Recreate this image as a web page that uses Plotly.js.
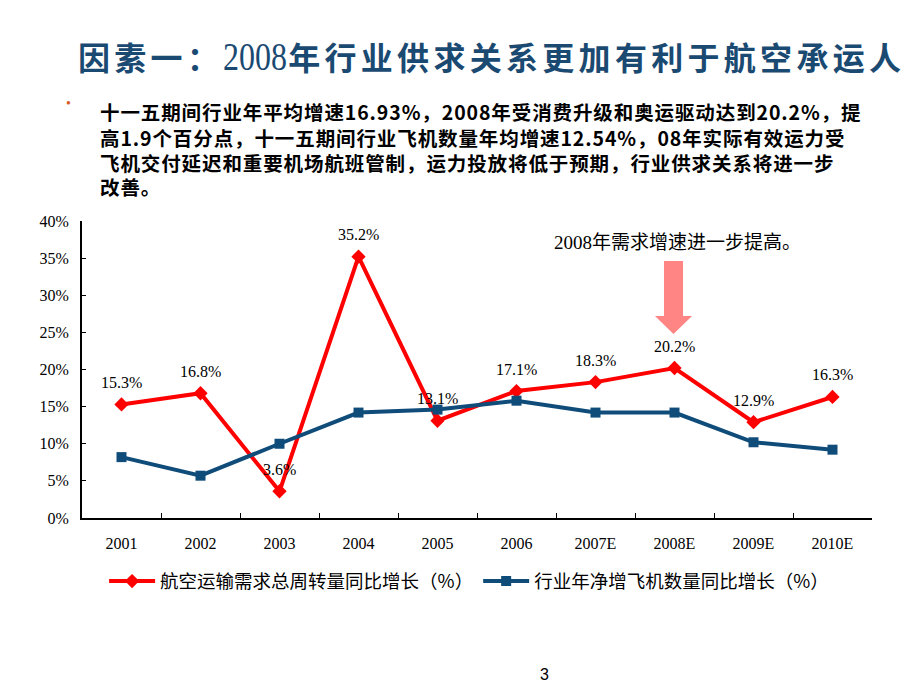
<!DOCTYPE html>
<html>
<head>
<meta charset="utf-8">
<script src="https://cdn.plot.ly/plotly-3.0.1.min.js"></script>
<style>
  body { margin: 0; background: #fff; }
  #page { position: relative; width: 920px; height: 690px; overflow: hidden; }
  #title { position: absolute; left: 78px; top: 34px; font-family: "Noto Sans CJK SC", sans-serif; font-weight: bold; font-size: 32px; line-height: 44px; color: #1a4a72; white-space: nowrap; letter-spacing: 4.3px; }
  #title .num { display: inline-block; font-family: "Liberation Serif", serif; font-weight: normal; font-size: 40px; transform: scaleX(0.8); transform-origin: left center; margin-right: -15px; letter-spacing: 0; }
  #bullet { position: absolute; left: 66px; top: 96px; color: #d85a20; font-size: 14px; }
  .ln { position: absolute; left: 100px; font-family: "Noto Sans CJK SC", sans-serif; font-weight: bold; font-size: 19.5px; line-height: 22px; color: #000; white-space: nowrap; letter-spacing: 0.9px; }
  #pgno { position: absolute; left: 540px; top: 666px; font-family: "Liberation Sans", Arial, sans-serif; font-size: 16px; }
  #chart { position: absolute; left: 0; top: 0; width: 920px; height: 690px; }
</style>
</head>
<body>
<div id="page">
  <div id="chart"></div>
  <div id="title">因素一：<span class="num">2008</span>年行业供求关系更加有利于航空承运人</div>
  <div id="bullet">•</div>
  <div class="ln" style="top:101px">十一五期间行业年平均增速16.93%，2008年受消费升级和奥运驱动达到20.2%，提</div>
  <div class="ln" style="top:127px">高1.9个百分点，十一五期间行业飞机数量年均增速12.54%，08年实际有效运力受</div>
  <div class="ln" style="top:152px">飞机交付延迟和重要机场航班管制，运力投放将低于预期，行业供求关系将进一步</div>
  <div class="ln" style="top:176px">改善。</div>
  <div id="pgno">3</div>
</div>
<script>
const years = ["2001", "2002", "2003", "2004", "2005", "2006", "2007E", "2008E", "2009E", "2010E"];
const demand = [15.3, 16.8, 3.6, 35.2, 13.1, 17.1, 18.3, 20.2, 12.9, 16.3];
const fleet = [8.2, 5.7, 10.0, 14.2, 14.6, 15.8, 14.2, 14.2, 10.2, 9.2];
const demandLabels = ["15.3%", "16.8%", "3.6%", "35.2%", "13.1%", "17.1%", "18.3%", "20.2%", "12.9%", "16.3%"];
const yTicks = [0, 5, 10, 15, 20, 25, 30, 35, 40];

const serif = '"Liberation Serif", "Noto Sans CJK SC", serif';

const traces = [
  {
    x: years, y: demand, type: "scatter", mode: "lines+markers",
    name: "航空运输需求总周转量同比增长（%）",
    line: { color: "#ff0000", width: 4 },
    marker: { symbol: "diamond", size: 11, color: "#ff0000" },
  },
  {
    x: years, y: fleet, type: "scatter", mode: "lines+markers",
    name: "行业年净增飞机数量同比增长（%）",
    line: { color: "#0f4c7a", width: 4 },
    marker: { symbol: "square", size: 10, color: "#0f4c7a" },
  },
];

// data labels on the category index, shifted above each point
const labels = years.map((yr, i) => ({
  x: i, y: demand[i], xref: "x", yref: "y",
  text: demandLabels[i], showarrow: false, yshift: 22,
  font: { family: serif, size: 16, color: "#000" },
}));

// pixel -> paper helpers for the block arrow (plot area 82..872 x 221..518)
const px = (v) => (v - 82) / 790;
const py = (v) => (518 - v) / 297;
const arrowPath = [
  [664, 261], [683, 261], [683, 316], [692, 316], [673.5, 334], [655, 316], [664, 316],
].map((p, i) => (i ? "L" : "M") + px(p[0]).toFixed(4) + "," + py(p[1]).toFixed(4)).join(" ") + " Z";

Plotly.newPlot("chart", traces, {
  width: 920, height: 690,
  margin: { l: 82, r: 48, t: 221, b: 172 },
  paper_bgcolor: "rgba(0,0,0,0)",
  plot_bgcolor: "rgba(0,0,0,0)",
  showlegend: true,
  legend: {
    orientation: "h", x: 0.49, xanchor: "center", y: -0.15, yanchor: "top",
    font: { family: '"Noto Sans CJK SC", sans-serif', size: 18.5, color: "#000" },
    itemwidth: 46, tracegroupgap: 0,
  },
  xaxis: {
    type: "category", range: [-0.5, 9.5], showline: true, linecolor: "#000", linewidth: 2,
    ticks: "inside", tickson: "boundaries", ticklen: 5, tickcolor: "#000",
    showgrid: false, zeroline: false, tickangle: 0, ticklabelstandoff: 10,
    tickfont: { family: serif, size: 16, color: "#000" },
  },
  yaxis: {
    range: [0, 40], tickvals: yTicks, ticktext: yTicks.map((v) => v + "%"),
    showline: true, linecolor: "#000", linewidth: 2,
    ticks: "inside", ticklen: 4, tickcolor: "#000",
    showgrid: false, zeroline: false, ticklabelstandoff: 8,
    tickfont: { family: serif, size: 16, color: "#000" },
  },
  shapes: [
    { type: "path", xref: "paper", yref: "paper", path: arrowPath, fillcolor: "#ff8585", line: { width: 0 } },
  ],
  annotations: labels.concat([
    {
      xref: "paper", yref: "paper", x: px(677), y: py(242), xanchor: "center", yanchor: "middle", showarrow: false,
      text: "2008年需求增速进一步提高。",
      font: { family: serif, size: 19, color: "#000" },
    },
  ]),
}, { displayModeBar: false });
</script>
</body>
</html>
